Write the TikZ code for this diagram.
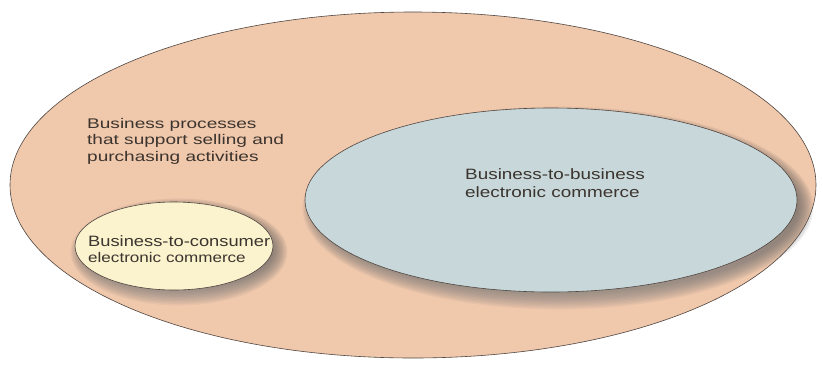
\documentclass[tikz,border=0pt]{standalone}
\usepackage{fontspec}
\setmainfont{Liberation Sans}
\newfontfamily\procfont[FakeStretch=1.36]{Liberation Sans}
\newfontfamily\bcfont[FakeStretch=1.22]{Liberation Sans}
\newfontfamily\bbfont[FakeStretch=1.26]{Liberation Sans}
\usetikzlibrary{shapes.geometric}
\definecolor{peach}{RGB}{240,200,172}
\definecolor{paleblue}{RGB}{200,216,218}
\definecolor{paleyellow}{RGB}{250,243,205}
\definecolor{edge}{RGB}{80,70,65}
\definecolor{txt}{RGB}{60,52,46}
\definecolor{shade}{RGB}{215,150,105}
\tikzset{
  region/.style={draw=edge, line width=0.6pt},
  lbl/.style={text=txt, inner sep=0pt},
}
\newcommand{\softshade}[4]{% center x, y, rx, ry
  \foreach \k in {0,...,11}{
    \fill[shade, opacity=0.045] (#1+7,#2+8) ellipse [x radius=#3+\k*1.4-6, y radius=#4+\k*1.4-6];
  }
}
\begin{document}
\begin{tikzpicture}[x=1pt,y=-1pt]
\useasboundingbox (0,0) rectangle (823,365);
\fill[white] (0,0) rectangle (823,365);
\node[region, fill=peach, ellipse, minimum width=806pt, minimum height=346pt, inner sep=0pt] (outer) at (413,185) {};
\softshade{551}{200}{246}{92}
\path[region, fill=paleblue] (551,200) ellipse [x radius=246, y radius=92];
\node[ellipse, minimum width=492pt, minimum height=184pt, inner sep=0pt] (b2b) at (551,200) {};
\softshade{172}{244}{99}{44}
\path[region, fill=paleyellow] (174,246) ellipse [x radius=99, y radius=44];
\node[ellipse, minimum width=198pt, minimum height=88pt, inner sep=0pt] (b2c) at (174,246) {};
\node[lbl, align=left, anchor=west, font=\procfont\fontsize{14}{16.5}\selectfont] (proc) at (87,141) {Business processes\\that support selling and\\purchasing activities};
\node[lbl, align=left, anchor=west, font=\bbfont\fontsize{15}{18}\selectfont] (b2btext) at (465,183) {Business-to-business\\electronic commerce};
\node[lbl, align=left, anchor=west, font=\bcfont\fontsize{15}{15.5}\selectfont] (b2ctext) at (88,249) {Business-to-consumer\\{\fontsize{14}{15.5}\selectfont electronic commerce}};
\end{tikzpicture}
\end{document}
